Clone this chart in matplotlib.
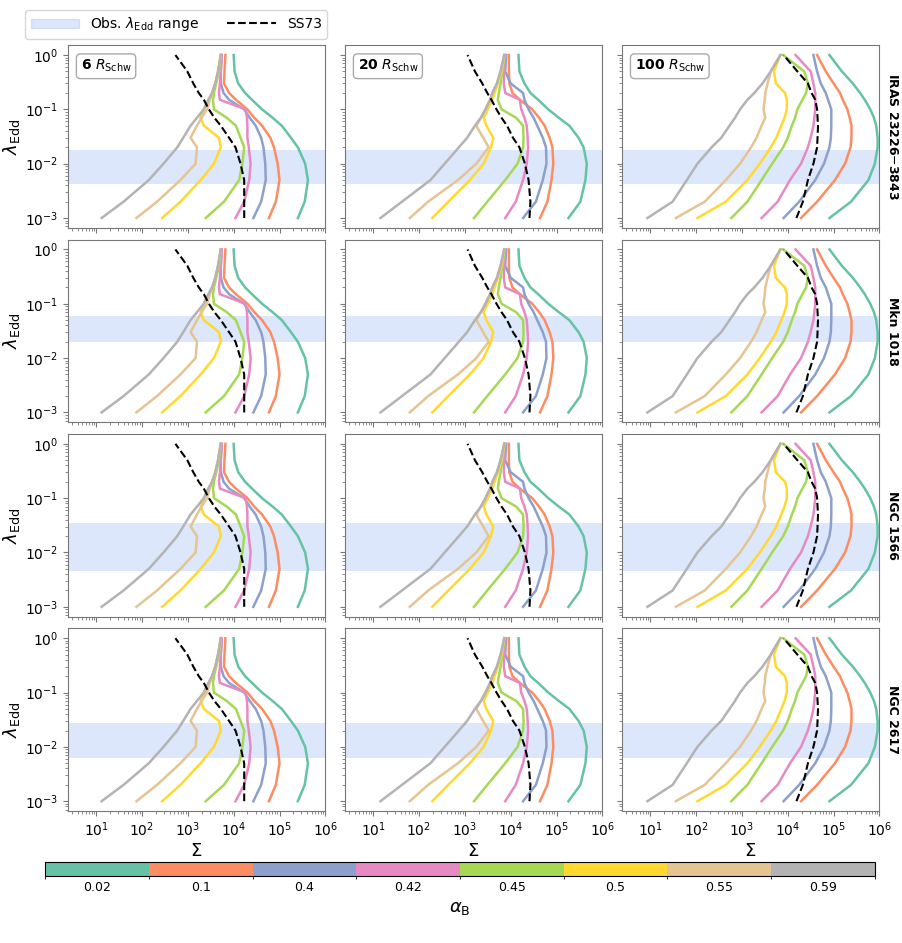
import numpy as np
import matplotlib.pyplot as plt
from matplotlib.colors import ListedColormap, BoundaryNorm
from matplotlib.cm import ScalarMappable
from matplotlib.patches import Patch
from matplotlib.lines import Line2D

# alpha_B values and their colours
alphas = ['0.02', '0.1', '0.4', '0.42', '0.45', '0.5', '0.55', '0.59']
colors = ['#66c2a5', '#fc8d62', '#8da0cb', '#e78ac3', '#a6d854', '#ffd92f', '#e5c494', '#b3b3b3']

radii = ['6', '20', '100']
sources = ['IRAS 23226$-$3843', 'Mkn 1018', 'NGC 1566', 'NGC 2617']
# observed Eddington ratio range per source
obs_lo = [4.3e-3, 2.0e-2, 4.5e-3, 6.3e-3]
obs_hi = [1.8e-2, 6.0e-2, 3.5e-2, 2.8e-2]

lam = [1e-3, 2e-3, 5e-3, 1e-2, 2e-2, 3e-2, 5e-2, 7e-2, 0.1, 0.15, 0.2, 0.3, 0.5, 1.0]

# log10 Sigma of each S-curve, one list per alpha_B (order as alphas)
logsig_6 = [
    [5.40, 5.55, 5.62, 5.56, 5.40, 5.25, 5.05, 4.85, 4.62, 4.40, 4.25, 4.10, 4.02, 4.00],
    [4.77, 4.92, 5.00, 4.96, 4.88, 4.80, 4.62, 4.45, 4.30, 4.05, 3.90, 3.79, 3.80, 3.82],
    [4.43, 4.60, 4.70, 4.69, 4.65, 4.60, 4.48, 4.35, 4.23, 3.90, 3.78, 3.72, 3.72, 3.74],
    [4.04, 4.23, 4.34, 4.37, 4.33, 4.30, 4.30, 4.29, 4.26, 3.70, 3.68, 3.70, 3.72, 3.74],
    [3.39, 3.79, 4.12, 4.19, 4.23, 4.15, 4.05, 3.85, 3.57, 3.55, 3.57, 3.62, 3.68, 3.72],
    [2.44, 2.84, 3.28, 3.57, 3.72, 3.68, 3.35, 3.28, 3.35, 3.45, 3.53, 3.60, 3.66, 3.72],
    [1.88, 2.33, 2.84, 3.17, 3.20, 3.06, 3.20, 3.30, 3.42, 3.48, 3.53, 3.60, 3.66, 3.72],
    [1.12, 1.60, 2.15, 2.47, 2.77, 2.90, 3.06, 3.20, 3.35, 3.45, 3.53, 3.60, 3.66, 3.72],
]
logsig_20 = [
    [5.26, 5.52, 5.63, 5.66, 5.59, 5.48, 5.28, 5.05, 4.82, 4.60, 4.43, 4.30, 4.19, 4.17],
    [4.64, 4.80, 4.89, 4.93, 4.91, 4.85, 4.74, 4.62, 4.47, 4.20, 4.04, 3.97, 3.96, 3.96],
    [4.27, 4.55, 4.70, 4.78, 4.77, 4.70, 4.58, 4.50, 4.39, 4.30, 4.27, 4.00, 3.88, 3.90],
    [3.88, 4.11, 4.27, 4.35, 4.38, 4.37, 4.35, 4.30, 4.23, 4.20, 3.88, 3.85, 3.86, 3.88],
    [3.20, 3.49, 3.88, 4.15, 4.27, 4.28, 4.27, 4.12, 3.80, 3.72, 3.74, 3.78, 3.82, 3.86],
    [2.29, 2.64, 3.11, 3.41, 3.57, 3.62, 3.47, 3.41, 3.50, 3.60, 3.65, 3.72, 3.80, 3.86],
    [1.80, 2.20, 2.85, 3.25, 3.52, 3.40, 3.25, 3.35, 3.45, 3.55, 3.60, 3.70, 3.78, 3.86],
    [1.16, 1.63, 2.25, 2.56, 2.87, 3.05, 3.22, 3.35, 3.45, 3.55, 3.60, 3.70, 3.78, 3.86],
]
logsig_100 = [
    [4.91, 5.38, 5.76, 5.90, 5.96, 5.96, 5.93, 5.88, 5.80, 5.68, 5.58, 5.42, 5.18, 4.91],
    [4.29, 4.64, 5.03, 5.25, 5.37, 5.39, 5.39, 5.35, 5.30, 5.20, 5.14, 5.00, 4.83, 4.64],
    [3.91, 4.25, 4.60, 4.79, 4.91, 4.94, 4.95, 4.95, 4.95, 4.88, 4.83, 4.72, 4.64, 4.56],
    [3.43, 3.78, 4.05, 4.29, 4.44, 4.50, 4.56, 4.58, 4.60, 4.60, 4.60, 4.56, 4.50, 4.17],
    [2.77, 3.12, 3.43, 3.66, 3.90, 4.00, 4.09, 4.16, 4.21, 4.32, 4.40, 4.44, 4.36, 3.90],
    [2.03, 2.65, 3.12, 3.39, 3.63, 3.75, 3.86, 3.93, 3.98, 3.98, 3.94, 3.74, 3.70, 3.84],
    [1.56, 2.19, 2.65, 2.96, 3.20, 3.32, 3.43, 3.51, 3.47, 3.50, 3.51, 3.56, 3.63, 3.84],
    [0.94, 1.49, 1.80, 2.03, 2.34, 2.55, 2.73, 2.85, 2.96, 3.12, 3.27, 3.45, 3.63, 3.84],
]
logsig_ss73 = [
    [4.23, 4.23, 4.23, 4.15, 4.04, 3.90, 3.72, 3.58, 3.46, 3.35, 3.24, 3.12, 2.99, 2.73],
    [4.41, 4.43, 4.39, 4.31, 4.19, 4.05, 3.92, 3.80, 3.69, 3.58, 3.49, 3.38, 3.22, 3.06],
    [4.19, 4.33, 4.44, 4.56, 4.64, 4.65, 4.66, 4.65, 4.64, 4.60, 4.52, 4.44, 4.21, 3.91],
]
curves = [logsig_6, logsig_20, logsig_100]

fig = plt.figure(figsize=(9.02, 9.43), dpi=100)
gs = fig.add_gridspec(4, 3, left=0.075, right=0.975, top=0.952, bottom=0.14,
                      wspace=0.075, hspace=0.065)

for r in range(4):
    for c in range(3):
        ax = fig.add_subplot(gs[r, c])
        ax.axhspan(obs_lo[r], obs_hi[r], color='cornflowerblue', alpha=0.22, lw=0)
        for k in range(len(alphas)):
            ax.plot(10 ** np.array(curves[c][k]), lam, color=colors[k], lw=1.8)
        ax.plot(10 ** np.array(logsig_ss73[c]), lam, color='black', ls='--', lw=1.5)
        ax.set_xscale('log')
        ax.set_yscale('log')
        ax.set_xlim(10 ** 0.38, 1e6)
        ax.set_ylim(10 ** -3.18, 10 ** 0.18)
        ax.set_xticks([1e1, 1e2, 1e3, 1e4, 1e5, 1e6])
        ax.set_yticks([1e-3, 1e-2, 1e-1, 1e0])
        for s in ax.spines.values():
            s.set_color('#777777')
        ax.tick_params(which='both', colors='#777777', labelcolor='black', labelsize=10)
        if c != 0:
            ax.set_yticklabels([])
        else:
            ax.set_ylabel(r'$\lambda_{\rm Edd}$', fontsize=13, labelpad=2)
        if r != 3:
            ax.set_xticklabels([])
        else:
            ax.set_xlabel(r'$\Sigma$', fontsize=13, labelpad=2)
        if r == 0:
            ax.text(0.05, 0.93, r'$\mathbf{' + radii[c] + r'}\ R_{\rm Schw}$', transform=ax.transAxes,
                    fontsize=10, va='top', ha='left',
                    bbox=dict(boxstyle='round,pad=0.3', fc='white', ec='#aaaaaa'))
        if c == 2:
            ax.text(1.05, 0.5, sources[r], transform=ax.transAxes, rotation=270,
                    va='center', ha='center', fontsize=9, fontweight='bold')

handles = [Patch(color='cornflowerblue', alpha=0.22, label=r'Obs. $\lambda_{\rm Edd}$ range'),
           Line2D([], [], color='black', ls='--', lw=1.5, label='SS73')]
fig.legend(handles=handles, loc='upper left', bbox_to_anchor=(0.02, 0.997), ncol=2,
           fontsize=10, frameon=True, edgecolor='#cccccc', handlelength=3.5, columnspacing=2)

cmap = ListedColormap(colors)
norm = BoundaryNorm(np.arange(len(colors) + 1), cmap.N)
cax = fig.add_axes([0.05, 0.071, 0.92, 0.0145])
cb = fig.colorbar(ScalarMappable(norm=norm, cmap=cmap), cax=cax, orientation='horizontal')
cb.set_ticks(np.arange(len(colors)) + 0.5)
cb.set_ticklabels(alphas)
cb.ax.tick_params(labelsize=9, length=0)
cb.set_label(r'$\alpha_{\rm B}$', fontsize=13)

fig.savefig('out.png', dpi=100)
